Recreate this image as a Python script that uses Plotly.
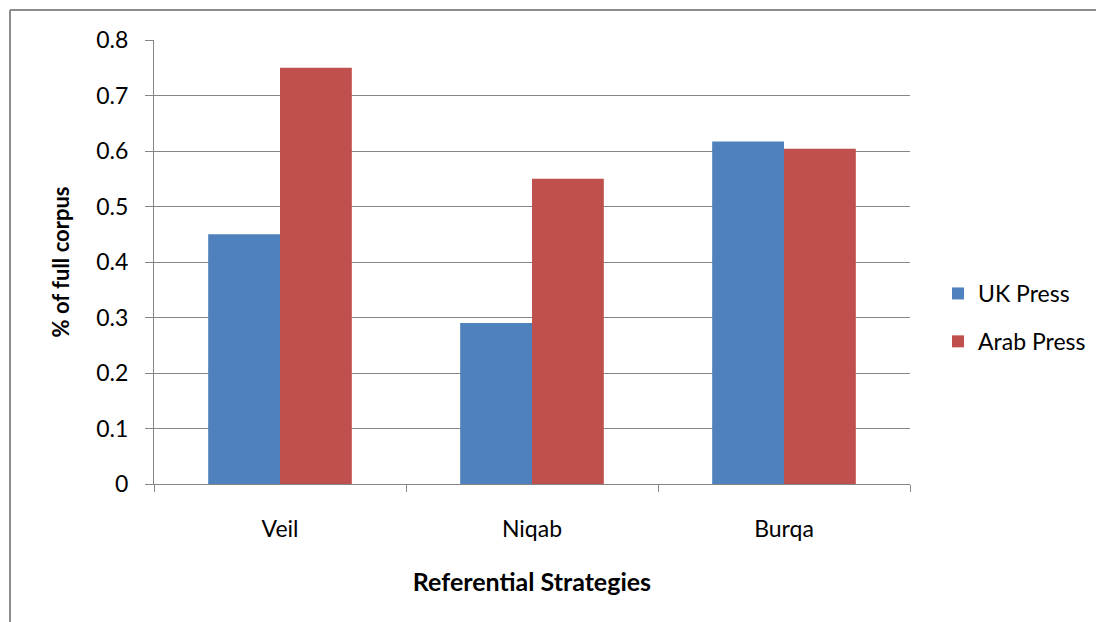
import plotly.graph_objects as go

categories = ["Veil", "Niqab", "Burqa"]
uk_press = [0.45, 0.29, 0.617]
arab_press = [0.75, 0.55, 0.604]
y_tick_vals = [0, 0.1, 0.2, 0.3, 0.4, 0.5, 0.6, 0.7, 0.8]
y_tick_text = ["0", "0.1", "0.2", "0.3", "0.4", "0.5", "0.6", "0.7", "0.8"]

FONT = "Lato"
GRID = "#868686"
OFF = 8  # default page body margin

W, H = 1104 - OFF, 622 - OFF
# screen-space plot area: x 154..910, y 40..484
L, T = 154 - OFF, 40 - OFF
R = W - (910 - OFF)
B = H - (484 - OFF)
pw, ph = W - L - R, H - T - B

def px_x(sx):
    return (sx - OFF - L) / pw

def px_y(sy):
    return (H - B - (sy - OFF)) / ph

fig = go.Figure()
fig.add_trace(go.Bar(x=categories, y=uk_press, name="UK Press",
                     marker=dict(color="#4F81BD", line=dict(width=0)),
                     legendgroup="a"))
fig.add_trace(go.Bar(x=categories, y=arab_press, name="Arab Press",
                     marker=dict(color="#C0504D", line=dict(width=0)),
                     legendgroup="b"))

fig.update_layout(
    width=W, height=H,
    margin=dict(l=L, r=R, t=T, b=B, pad=0),
    paper_bgcolor="white", plot_bgcolor="white",
    barmode="group", bargap=0.43, bargroupgap=0,
    font=dict(family=FONT, size=24, color="#000000"),
    showlegend=True,
    legend=dict(x=px_x(938), y=px_y(272), xanchor="left", yanchor="top",
                font=dict(size=23), tracegroupgap=15,
                itemwidth=30, bgcolor="rgba(0,0,0,0)"),
    xaxis=dict(
        showline=True, linecolor=GRID, linewidth=1,
        ticks="outside", tickson="boundaries", ticklen=7, tickcolor=GRID,
        showgrid=False, ticklabelstandoff=24,
        tickfont=dict(size=23),
        title=dict(text="<b>Referential Strategies</b>", font=dict(size=25), standoff=32),
    ),
    yaxis=dict(
        range=[0, 0.8], tickvals=y_tick_vals, ticktext=y_tick_text,
        showline=True, linecolor=GRID, linewidth=1,
        ticks="outside", ticklen=8, tickcolor=GRID,
        showgrid=True, gridcolor=GRID, gridwidth=1,
        zeroline=False, ticklabelstandoff=12,
        tickfont=dict(size=23),
        title=dict(text="<b>% of full corpus</b>", font=dict(size=22), standoff=20),
    ),
    shapes=[
        dict(type="line", xref="paper", yref="paper",
             x0=px_x(10), x1=px_x(1104 + 5), y0=px_y(10), y1=px_y(10),
             line=dict(color="#8c8c8c", width=2)),
        dict(type="line", xref="paper", yref="paper",
             x0=px_x(10), x1=px_x(10), y0=px_y(10), y1=px_y(622 + 5),
             line=dict(color="#8c8c8c", width=2)),
    ],
)

fig.write_html("out.html")
